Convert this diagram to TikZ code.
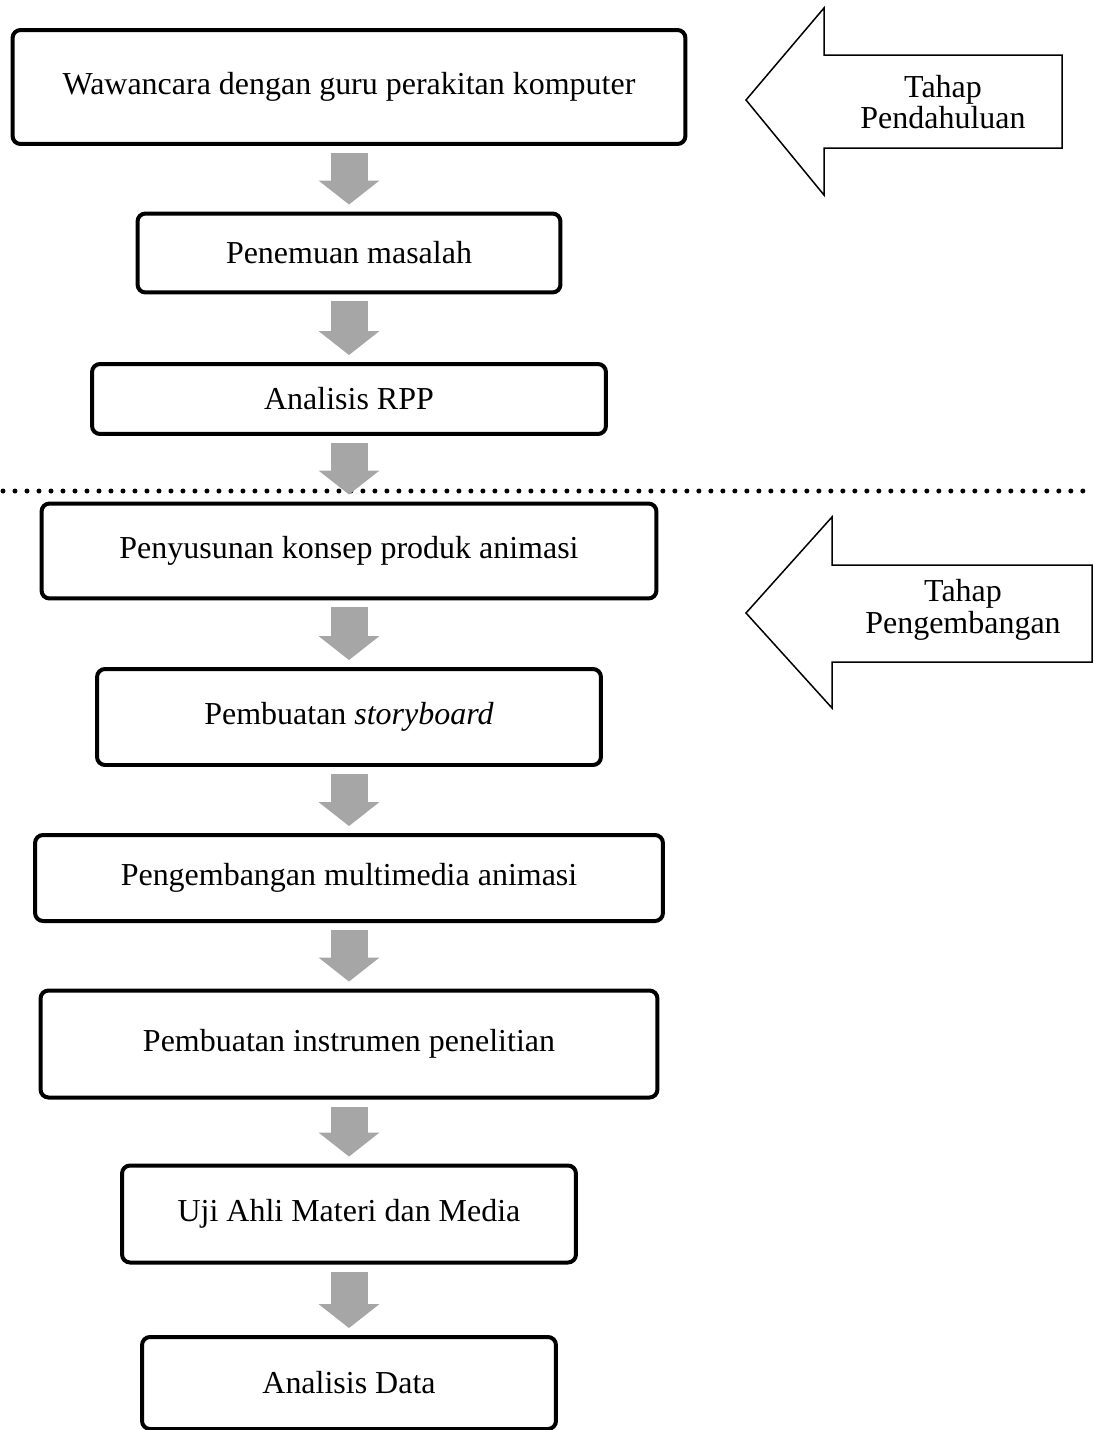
\documentclass[tikz,border=0pt]{standalone}
\usepackage{fontspec}
\setmainfont{Liberation Serif}
\usetikzlibrary{arrows.meta}
\definecolor{arrowgray}{RGB}{166,166,166}

\begin{document}
\begin{tikzpicture}[x=0.02cm, y=-0.02cm,
    box/.style={draw, line width=0.08cm, rounded corners=0.16cm, align=center, font=\fontsize{18.2}{18}\selectfont},
    flow/.style={arrowgray, line width=0.74cm, -{Triangle[length=0.48cm, width=1.22cm, line width=0pt]}, shorten <=0.14cm, shorten >=0.14cm},
    phase/.style={draw, line width=0.03cm, line join=miter},
    phasetext/.style={align=center, font=\fontsize{18.2}{18}\selectfont}]
    % Bingkai
    \useasboundingbox (0,0) rectangle (1094,1430);

    % Tahap pendahuluan
    \node[box, minimum width=13.46cm, minimum height=2.28cm] (wawancara) at (349,87) {Wawancara dengan guru perakitan komputer};
    \node[box, minimum width=8.46cm, minimum height=1.58cm] (masalah) at (349,253) {Penemuan masalah};
    \node[box, minimum width=10.28cm, minimum height=1.40cm] (rpp) at (349,399) {Analisis RPP};

    % Garis pemisah
    \draw[line width=0.1cm, line cap=round, dash pattern=on 0pt off 0.24cm] (3,491) -- (1094,491);

    % Tahap pengembangan
    \node[box, minimum width=12.30cm, minimum height=1.90cm] (konsep) at (349,551) {Penyusunan konsep produk animasi};
    \node[box, minimum width=10.08cm, minimum height=1.92cm] (storyboard) at (349,717) {Pembuatan \textit{storyboard}};
    \node[box, minimum width=12.56cm, minimum height=1.72cm] (multimedia) at (349,878) {Pengembangan multimedia animasi};
    \node[box, minimum width=12.34cm, minimum height=2.14cm] (instrumen) at (349,1044) {Pembuatan instrumen penelitian};
    \node[box, minimum width=9.08cm, minimum height=1.94cm] (ujiahli) at (349,1214) {Uji Ahli Materi dan Media};
    \node[box, minimum width=8.28cm, minimum height=1.84cm] (analisis) at (349,1383) {Analisis Data};

    % Panah alur
    \draw[flow] (wawancara) -- (masalah);
    \draw[flow] (masalah) -- (rpp);
    \draw[flow] (rpp) -- (konsep);
    \draw[flow] (konsep) -- (storyboard);
    \draw[flow] (storyboard) -- (multimedia);
    \draw[flow] (multimedia) -- (instrumen);
    \draw[flow] (instrumen) -- (ujiahli);
    \draw[flow] (ujiahli) -- (analisis);

    % Panah tahap
    \draw[phase] (746,100) -- (824,8) -- (824,55) -- (1062,55) -- (1062,148) -- (824,148) -- (824,195) -- cycle;
    \node[phasetext] (pendahuluan) at (943,102) {Tahap\\Pendahuluan};
    \draw[phase] (746,613) -- (832,517) -- (832,565) -- (1092,565) -- (1092,662) -- (832,662) -- (832,708) -- cycle;
    \node[phasetext] (pengembangan) at (963,610) {Tahap\\Pengembangan};
\end{tikzpicture}
\end{document}
